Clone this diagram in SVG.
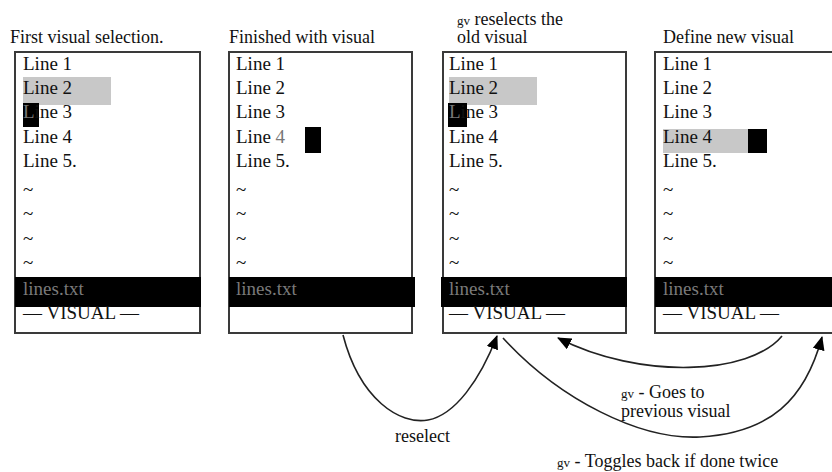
<svg xmlns="http://www.w3.org/2000/svg" width="832" height="472" viewBox="0 0 832 472" font-family="'Liberation Serif', 'Times New Roman', Tinos, 'DejaVu Serif', serif">
<style>
text{font-family:'Liberation Serif','Times New Roman',Tinos,'DejaVu Serif',serif;fill:#111}
.t{font-size:18px}
.l{font-size:19px}
.gv{font-size:13px}
.box{fill:#fff;stroke:#3a3a3a;stroke-width:2}
.bar{fill:#000}
.fn{font-size:19px;fill:#7a7a7a}
.hl{fill:#c8c8c8}
.cur{fill:#000}
.g{fill:#777}
.c{fill:none;stroke:#222;stroke-width:1.6}
</style>
<defs>
<marker id="ah" markerUnits="userSpaceOnUse" markerWidth="14" markerHeight="12" refX="13" refY="6" orient="auto">
<path d="M0,0 L14,6 L0,12 Z" fill="#000"/>
</marker>
</defs>

<g id="title1"><text class="t" x="10" y="43">First visual selection.</text></g>
<g id="title2"><text class="t" x="229" y="43">Finished with visual</text></g>
<g id="title3"><text class="t" x="457" y="25"><tspan class="gv">gv</tspan> reselects the</text><text class="t" x="457" y="43">old visual</text></g>
<g id="title4"><text class="t" x="663" y="43">Define new visual</text></g>

<g id="box1">
<rect class="box" x="15" y="52" width="185" height="281"/>
<rect class="hl" x="23" y="77" width="88" height="28"/>
<rect class="cur" x="23" y="103" width="16" height="24"/>
<text class="l" x="23" y="70">Line 1</text>
<text class="l" x="23" y="94">Line 2</text>
<text class="l" x="23" y="118"><tspan class="g">L</tspan>ine 3</text>
<text class="l" x="23" y="143">Line 4</text>
<text class="l" x="23" y="167">Line 5.</text>
<text class="l" x="23" y="196">~</text>
<text class="l" x="23" y="220">~</text>
<text class="l" x="23" y="245">~</text>
<text class="l" x="23" y="269">~</text>
<rect class="bar" x="15" y="277" width="186" height="30"/>
<text class="fn" x="23" y="295">lines.txt</text>
<text class="l" x="23" y="319">— VISUAL —</text>
</g>

<g id="box2">
<rect class="box" x="229" y="52" width="183" height="281"/>
<rect class="cur" x="305" y="127" width="16" height="26"/>
<text class="l" x="236" y="70">Line 1</text>
<text class="l" x="236" y="94">Line 2</text>
<text class="l" x="236" y="118">Line 3</text>
<text class="l" x="236" y="143">Line <tspan class="g">4</tspan></text>
<text class="l" x="236" y="167">Line 5.</text>
<text class="l" x="236" y="196">~</text>
<text class="l" x="236" y="220">~</text>
<text class="l" x="236" y="245">~</text>
<text class="l" x="236" y="269">~</text>
<rect class="bar" x="229" y="277" width="186" height="30"/>
<text class="fn" x="236" y="295">lines.txt</text>
</g>

<g id="box3">
<rect class="box" x="443" y="52" width="183" height="281"/>
<rect class="hl" x="449" y="77" width="88" height="28"/>
<rect class="cur" x="448" y="103" width="19" height="24"/>
<text class="l" x="449" y="70">Line 1</text>
<text class="l" x="449" y="94">Line 2</text>
<text class="l" x="449" y="118"><tspan class="g">L</tspan>ine 3</text>
<text class="l" x="449" y="143">Line 4</text>
<text class="l" x="449" y="167">Line 5.</text>
<text class="l" x="449" y="196">~</text>
<text class="l" x="449" y="220">~</text>
<text class="l" x="449" y="245">~</text>
<text class="l" x="449" y="269">~</text>
<rect class="bar" x="441" y="277" width="186" height="30"/>
<text class="fn" x="449" y="295">lines.txt</text>
<text class="l" x="449" y="319">— VISUAL —</text>
</g>

<g id="box4">
<rect class="box" x="655" y="52" width="190" height="281"/>
<rect class="hl" x="663" y="129" width="85" height="24"/>
<rect class="cur" x="748" y="129" width="19" height="24"/>
<text class="l" x="663" y="70">Line 1</text>
<text class="l" x="663" y="94">Line 2</text>
<text class="l" x="663" y="118">Line 3</text>
<text class="l" x="663" y="143">Line 4</text>
<text class="l" x="663" y="167">Line 5.</text>
<text class="l" x="663" y="196">~</text>
<text class="l" x="663" y="220">~</text>
<text class="l" x="663" y="245">~</text>
<text class="l" x="663" y="269">~</text>
<rect class="bar" x="655" y="277" width="190" height="30"/>
<text class="fn" x="663" y="295">lines.txt</text>
<text class="l" x="663" y="319">— VISUAL —</text>
</g>

<g id="connectors">
<path class="c" marker-end="url(#ah)" d="M343,335 C360,400 400,425 428,420 C455,415 480,380 497,336"/>
<path class="c" marker-end="url(#ah)" d="M782,336 C750,375 640,380 558,338"/>
<path class="c" marker-end="url(#ah)" d="M503,338 C560,400 640,440 700,437 C770,433 805,400 822,337"/>
</g>

<g id="labels">
<text class="t" x="395" y="442">reselect</text>
<text class="t" x="621" y="398"><tspan class="gv">gv</tspan> - Goes to</text>
<text class="t" x="621" y="417">previous visual</text>
<text class="t" x="557" y="467"><tspan class="gv">gv</tspan> - Toggles back if done twice</text>
</g>
</svg>
